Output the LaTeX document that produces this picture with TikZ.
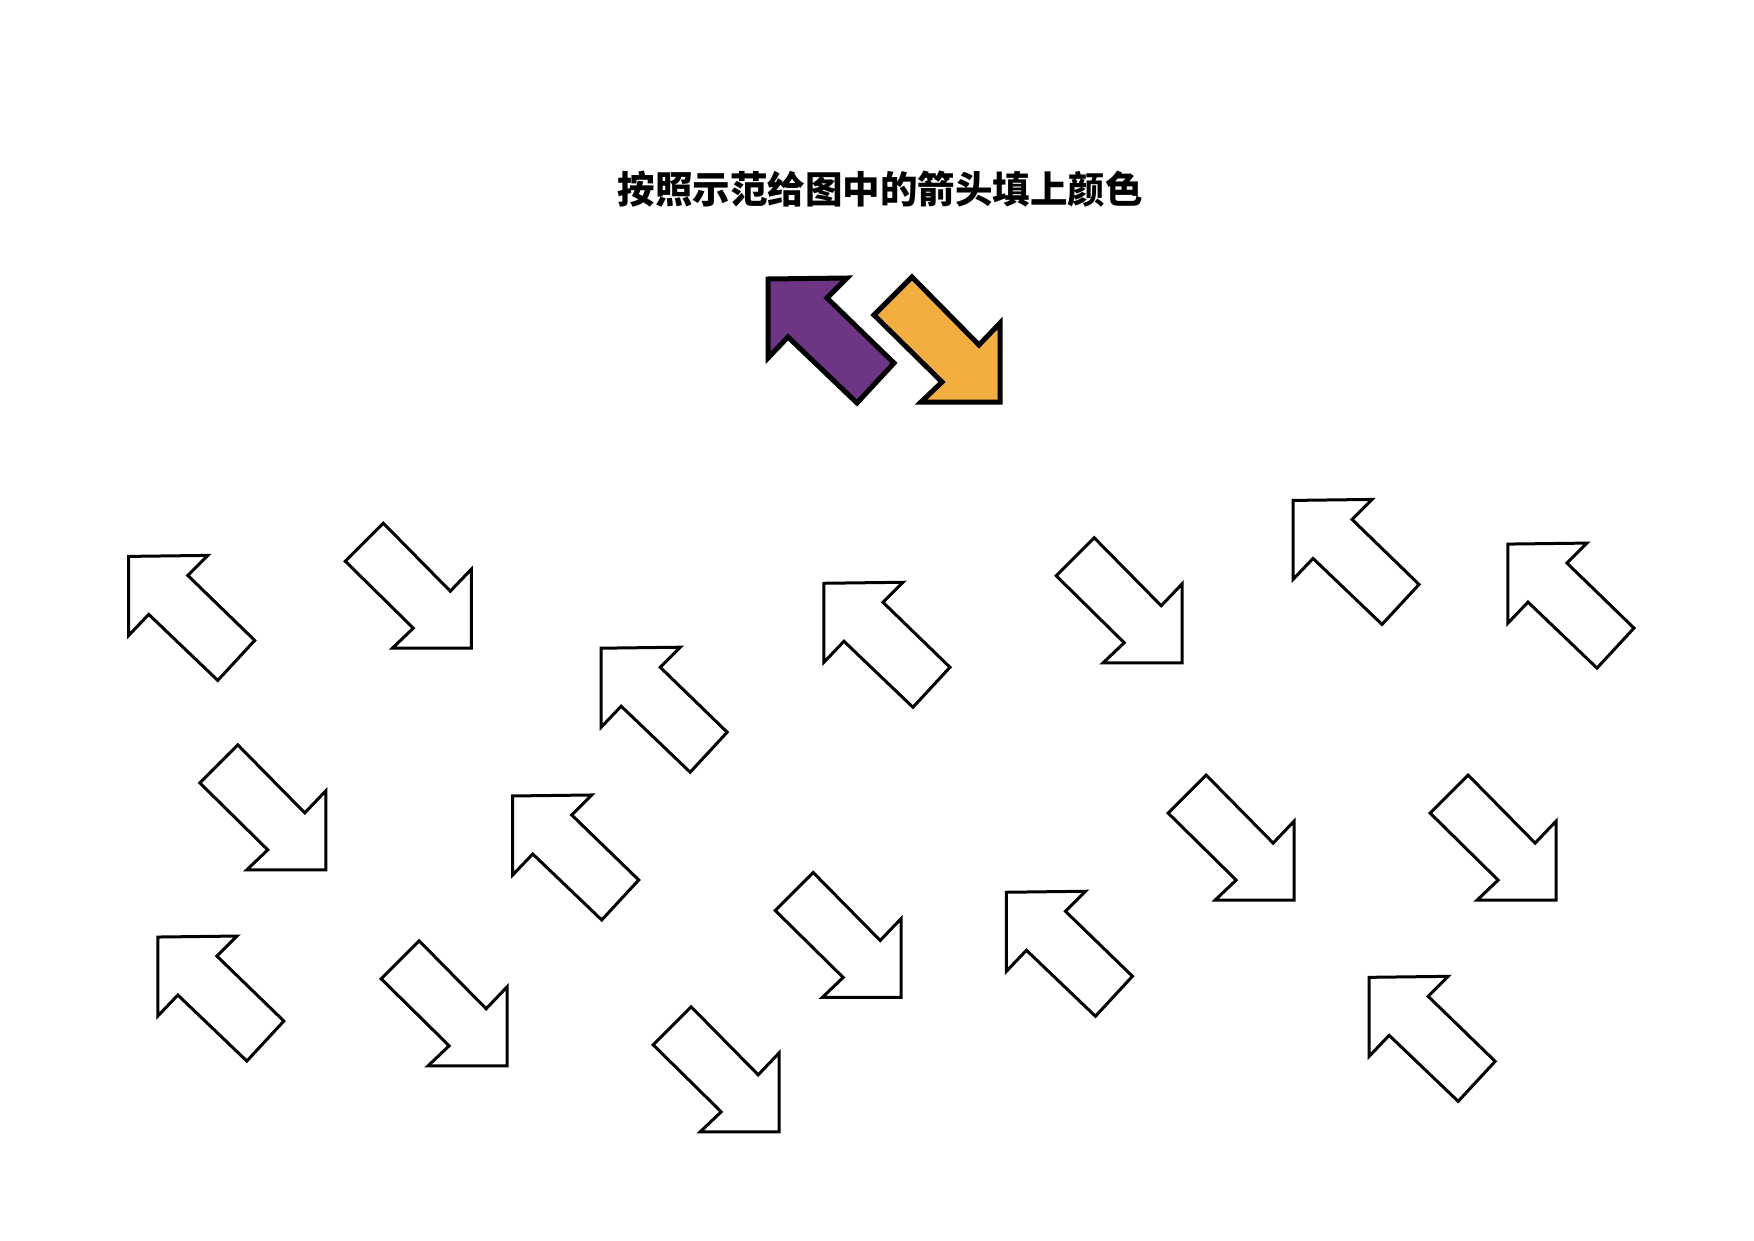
\documentclass[tikz,border=0pt]{standalone}
\usepackage{fontspec}
\newfontfamily\cjk{Noto Sans CJK SC}
\definecolor{pur}{HTML}{6E3585}
\definecolor{org}{HTML}{F2AE3E}
\tikzset{arr/.style={draw=black,line width=3pt,line join=miter,fill=white}}
\newcommand\arrUL[3][arr]{\draw[#1,shift={(#2,#3)}] (0,0)--(79,-1)--(59,19)--(126,84)--(89,124)--(20,58)--(0,79)--cycle;}
\newcommand\arrDR[3][arr]{\draw[#1,shift={(#2,#3)}] (0,0)--(-79,0)--(-58,-20)--(-126,-87)--(-88,-125)--(-21,-57)--(0,-79)--cycle;}
\begin{document}
\begin{tikzpicture}[x=1pt,y=-1pt]
\useasboundingbox[fill=white] (0,0) rectangle (1754,1240);
\node[font=\cjk\bfseries] (title) at (880,189) {\fontsize{37.5}{44}\selectfont 按照示范给图中的箭头填上颜色};
\arrUL[arr,fill=pur,line width=5pt]{768}{279}
\arrDR[arr,fill=org,line width=5pt]{1000}{402}
\foreach \x/\y in {115/497,537/579,736/521,1155/447,1347/486,458/711,141/837,899/797,1223/873}
  {\arrUL{\x*1.1195}{\y*1.1195}}
\foreach \x/\y in {421/579,1056/592,291/777,1156/804,1390/804,453/952,805/891,696/1011}
  {\arrDR{\x*1.1195}{\y*1.1195}}
\end{tikzpicture}
\end{document}
